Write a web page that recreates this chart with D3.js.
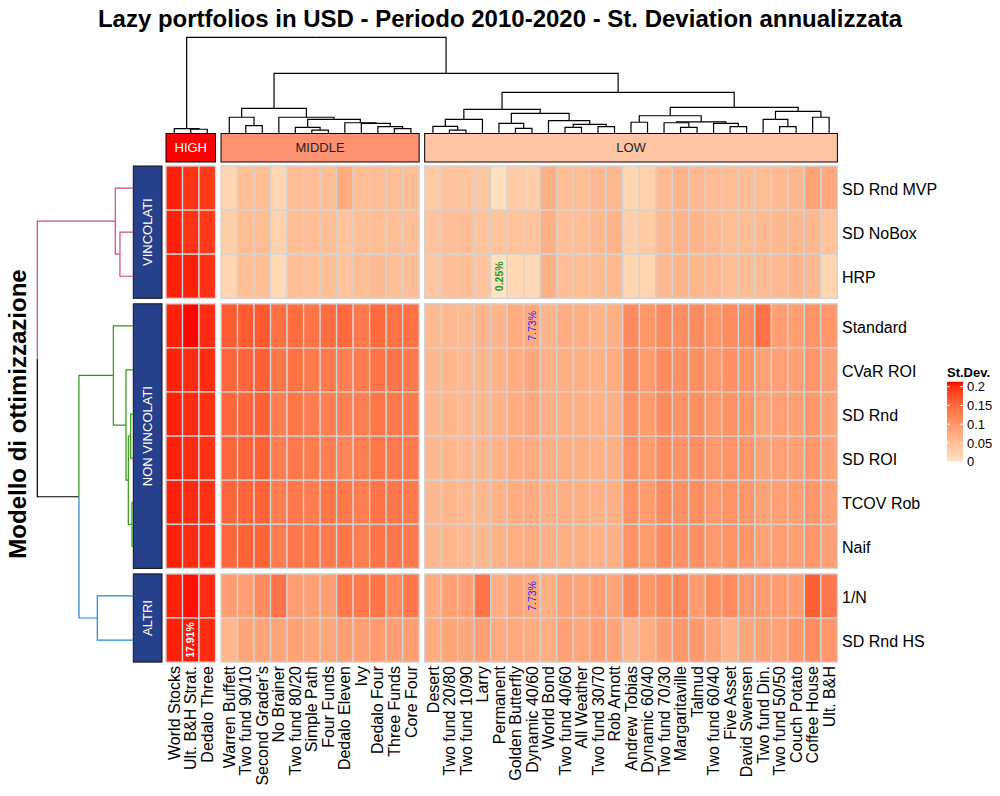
<!DOCTYPE html>
<html><head><meta charset="utf-8">
<script src="https://cdn.jsdelivr.net/npm/d3@7"></script>
<style>body{margin:0;background:#fff} text{font-family:"Liberation Sans",Arial,sans-serif}</style>
</head><body><svg id="c" width="1000" height="796"></svg>
<script>
// ---------------- DATA ----------------
const chartTitle = "Lazy portfolios in USD - Periodo 2010-2020 - St. Deviation annualizzata";
const rowTitle = "Modello di ottimizzazione";
const legendTitle = "St.Dev.";
const legendTicks = [0, 0.05, 0.1, 0.15, 0.2];
const colorDomain = [0, 0.213];

const colGroups = ["HIGH", "MIDDLE", "LOW"];
const colsHigh = ["World Stocks", "Ult. B&H Strat.", "Dedalo Three"];
const colsMiddle = ["Warren Buffett", "Two fund 90/10", "Second Grader's", "No Brainer", "Two fund 80/20", "Simple Path", "Four Funds", "Dedalo Eleven", "Ivy", "Dedalo Four", "Three Funds", "Core Four"];
const colsLow = ["Desert", "Two fund 20/80", "Two fund 10/90", "Larry", "Permanent", "Golden Butterfly", "Dynamic 40/60", "World Bond", "Two fund 40/60", "All Weather", "Two fund 30/70", "Rob Arnott", "Andrew Tobias", "Dynamic 60/40", "Two fund 70/30", "Margaritaville", "Talmud", "Two fund 60/40", "Five Asset", "David Swensen", "Two fund Din.", "Two fund 50/50", "Couch Potato", "Coffee House", "Ult. B&H"];

const rowGroups = ["VINCOLATI", "NON VINCOLATI", "ALTRI"];
const rowsVincolati = ["SD Rnd MVP", "SD NoBox", "HRP"];
const rowsNonVincolati = ["Standard", "CVaR ROI", "SD Rnd", "SD ROI", "TCOV Rob", "Naif"];
const rowsAltri = ["1/N", "SD Rnd HS"];

// St. deviation per model (columns in display order: HIGH, MIDDLE, LOW)
const sdRndMVP = [0.205,0.196,0.192, 0.020,0.050,0.050,0.020,0.050,0.050,0.050,0.075,0.050,0.052,0.052,0.050, 0.033,0.045,0.045,0.038,0.006,0.032,0.028,0.070,0.052,0.052,0.055,0.058,0.020,0.024,0.055,0.062,0.058,0.053,0.052,0.052,0.052,0.055,0.060,0.085,0.078];
const sdNoBox = [0.205,0.196,0.192, 0.028,0.052,0.052,0.025,0.050,0.050,0.050,0.045,0.050,0.052,0.050,0.050, 0.045,0.050,0.050,0.045,0.045,0.045,0.045,0.070,0.050,0.050,0.055,0.065,0.028,0.035,0.057,0.065,0.062,0.055,0.052,0.052,0.055,0.060,0.060,0.060,0.045];
const hrp = [0.205,0.205,0.198, 0.020,0.050,0.050,0.015,0.050,0.048,0.050,0.045,0.052,0.056,0.050,0.050, 0.038,0.050,0.050,0.042,0.0025,0.015,0.015,0.070,0.050,0.052,0.053,0.055,0.020,0.020,0.057,0.062,0.060,0.055,0.052,0.052,0.053,0.057,0.062,0.057,0.020];
const standard = [0.205,0.212,0.200, 0.165,0.165,0.168,0.145,0.148,0.140,0.148,0.152,0.135,0.152,0.145,0.145, 0.057,0.057,0.055,0.062,0.063,0.075,0.0773,0.063,0.073,0.070,0.063,0.070,0.115,0.100,0.115,0.110,0.113,0.102,0.113,0.112,0.145,0.090,0.090,0.103,0.100];
const cvarROI = [0.205,0.200,0.200, 0.155,0.155,0.160,0.138,0.142,0.133,0.133,0.128,0.132,0.140,0.140,0.135, 0.060,0.060,0.058,0.060,0.066,0.073,0.080,0.068,0.072,0.070,0.066,0.075,0.113,0.095,0.113,0.108,0.110,0.098,0.108,0.102,0.088,0.088,0.087,0.102,0.087];
const sdRnd = [0.205,0.200,0.198, 0.155,0.155,0.160,0.128,0.138,0.130,0.128,0.128,0.130,0.138,0.135,0.133, 0.060,0.060,0.058,0.060,0.066,0.073,0.078,0.070,0.072,0.070,0.066,0.070,0.107,0.095,0.113,0.105,0.110,0.097,0.106,0.100,0.083,0.088,0.088,0.100,0.085];
const sdROI = [0.205,0.200,0.198, 0.155,0.155,0.160,0.128,0.135,0.132,0.128,0.122,0.128,0.138,0.135,0.135, 0.060,0.060,0.058,0.060,0.066,0.073,0.076,0.070,0.072,0.070,0.066,0.070,0.105,0.095,0.112,0.105,0.108,0.097,0.104,0.100,0.085,0.088,0.088,0.100,0.085];
const tcovRob = [0.205,0.200,0.198, 0.155,0.155,0.158,0.130,0.135,0.130,0.138,0.135,0.130,0.140,0.137,0.135, 0.060,0.060,0.058,0.060,0.066,0.073,0.076,0.070,0.072,0.070,0.066,0.070,0.105,0.095,0.113,0.107,0.110,0.097,0.105,0.100,0.085,0.088,0.090,0.102,0.087];
const naif = [0.205,0.200,0.198, 0.155,0.157,0.158,0.130,0.137,0.133,0.133,0.138,0.130,0.140,0.137,0.135, 0.060,0.060,0.058,0.060,0.066,0.072,0.076,0.070,0.072,0.070,0.066,0.070,0.105,0.095,0.113,0.107,0.108,0.097,0.105,0.100,0.088,0.090,0.090,0.102,0.088];
const oneOverN = [0.205,0.210,0.200, 0.090,0.090,0.113,0.140,0.090,0.088,0.090,0.133,0.133,0.140,0.117,0.137, 0.075,0.088,0.090,0.140,0.070,0.082,0.0773,0.070,0.088,0.083,0.088,0.083,0.115,0.100,0.113,0.120,0.095,0.110,0.113,0.097,0.095,0.095,0.090,0.162,0.137];
const sdRndHS = [0.205,0.208,0.200, 0.060,0.083,0.083,0.083,0.085,0.080,0.083,0.090,0.090,0.095,0.090,0.090, 0.075,0.082,0.080,0.090,0.075,0.078,0.075,0.072,0.088,0.080,0.087,0.083,0.064,0.072,0.090,0.100,0.097,0.083,0.068,0.080,0.088,0.085,0.100,0.113,0.100];

const cellLabels = [
  {row: "HRP", col: "Permanent", text: "0.25%", kind: "min"},
  {row: "Standard", col: "Dynamic 40/60", text: "7.73%", kind: "mid"},
  {row: "1/N", col: "Dynamic 40/60", text: "7.73%", kind: "mid"},
  {row: "SD Rnd HS", col: "Ult. B&H Strat.", text: "17.91%", kind: "max"}
];

// Dendrograms: [height, left, right], leaves are names
const colTree = [1.0,
  [0.048, "World Stocks", [0.042, "Ult. B&H Strat.", "Dedalo Three"]],
  [0.625,
    [0.260,
      [0.167, "Warren Buffett", [0.079, "Two fund 90/10", "Second Grader's"]],
      [0.167, "No Brainer",
        [0.146,
          [0.0625, "Two fund 80/20", [0.034, "Simple Path", "Four Funds"]],
          [0.110, "Dedalo Eleven", [0.104, "Ivy", [0.069, "Dedalo Four", [0.048, "Three Funds", "Core Four"]]]]]]],
    [0.427,
      [0.250,
        [0.146, [0.073, "Desert", [0.034, "Two fund 20/80", "Two fund 10/90"]], "Larry"],
        [0.208,
          [0.104, "Permanent", [0.052, "Golden Butterfly", "Dynamic 40/60"]],
          [0.131, "World Bond", [0.094, [0.0625, "Two fund 40/60", "All Weather"], [0.069, "Two fund 30/70", "Rob Arnott"]]]]],
      [0.271,
        [0.183, [0.115, "Andrew Tobias", "Dynamic 60/40"],
          [0.118, [0.110, "Two fund 70/30", [0.0625, "Margaritaville", "Talmud"]], [0.104, "Two fund 60/40", [0.069, "Five Asset", "David Swensen"]]]],
        [0.229, [0.146, "Two fund Din.", [0.069, "Two fund 50/50", "Couch Potato"]], [0.167, "Coffee House", "Ult. B&H"]]]]]];
const rowTree = [1.0,
  [0.1875, "SD Rnd MVP", [0.139, "SD NoBox", "HRP"]],
  [0.566,
    [0.208, "Standard", [0.076, "CVaR ROI", [0.052, [0.027, "SD Rnd", "SD ROI"], [0.0135, "TCOV Rob", "Naif"]]]],
    [0.375, "1/N", "SD Rnd HS"]]];

// ---------------- LAYOUT / STYLE ----------------
const svg = d3.select("#c");
const hmLeft = 166, cw = 16.51, cgap = 5.5;
const hmTop = 166, rh = 44.1, rgap = 5.5;
const colSlices = [colsHigh, colsMiddle, colsLow];
const rowSlices = [rowsVincolati, rowsNonVincolati, rowsAltri];
const rowValues = {"SD Rnd MVP": sdRndMVP, "SD NoBox": sdNoBox, "HRP": hrp, "Standard": standard, "CVaR ROI": cvarROI, "SD Rnd": sdRnd, "SD ROI": sdROI, "TCOV Rob": tcovRob, "Naif": naif, "1/N": oneOverN, "SD Rnd HS": sdRndHS};
const allCols = colSlices.flat();

const color = d3.scaleLinear().domain(colorDomain).range(["#FFE4C4", "#FF0000"]).interpolate(d3.interpolateLab).clamp(true);

let x0 = hmLeft;
const colScales = colSlices.map(s => { const sc = d3.scaleBand().domain(s).range([x0, x0 + s.length * cw]); x0 += s.length * cw + cgap; return sc; });
let y0 = hmTop;
const rowScales = rowSlices.map(s => { const sc = d3.scaleBand().domain(s).range([y0, y0 + s.length * rh]); y0 += s.length * rh + rgap; return sc; });
const colScaleOf = {}; colSlices.forEach((s, i) => s.forEach(c => colScaleOf[c] = colScales[i]));
const rowScaleOf = {}; rowSlices.forEach((s, i) => s.forEach(r => rowScaleOf[r] = rowScales[i]));
const cx = c => colScaleOf[c](c) + colScaleOf[c].bandwidth() / 2;
const cy = r => rowScaleOf[r](r) + rowScaleOf[r].bandwidth() / 2;

// Titles
svg.append("text").attr("x", 500).attr("y", 27).attr("text-anchor", "middle")
  .attr("font-size", 24).attr("font-weight", "bold").text(chartTitle);
svg.append("text").attr("transform", "translate(26,414) rotate(-90)").attr("text-anchor", "middle")
  .attr("font-size", 24).attr("font-weight", "bold").text(rowTitle);

// Cells
const gCells = svg.append("g");
rowSlices.flat().forEach(r => {
  const vals = rowValues[r];
  allCols.forEach((c, j) => {
    const sc = colScaleOf[c], sr = rowScaleOf[r];
    gCells.append("rect").attr("x", sc(c)).attr("y", sr(r)).attr("width", sc.bandwidth()).attr("height", sr.bandwidth())
      .attr("fill", color(vals[j])).attr("stroke", "#d3d3d3").attr("stroke-width", 1.3);
  });
});

// Cell labels
const labelStyle = {min: {fill: "#1f9a1f", weight: "bold"}, mid: {fill: "#1a1aff", weight: "normal"}, max: {fill: "#ffffff", weight: "bold"}};
cellLabels.forEach(l => {
  svg.append("text").attr("transform", `translate(${cx(l.col)},${cy(l.row)}) rotate(-90)`)
    .attr("text-anchor", "middle").attr("dy", "0.35em").attr("font-size", 10.5)
    .attr("fill", labelStyle[l.kind].fill).attr("font-weight", labelStyle[l.kind].weight).text(l.text);
});

// Column annotation
const annTop = 133.5, annH = 28.5;
const annFill = {HIGH: "#FF0000", MIDDLE: "#FC9272", LOW: "#FFC4A4"};
const annText = {HIGH: "#ffffff", MIDDLE: "#222222", LOW: "#222222"};
colGroups.forEach((g, i) => {
  const sc = colScales[i], r = sc.range();
  svg.append("rect").attr("x", r[0]).attr("y", annTop).attr("width", r[1] - r[0]).attr("height", annH)
    .attr("fill", annFill[g]).attr("stroke", "#000").attr("stroke-width", 1);
  svg.append("text").attr("x", (r[0] + r[1]) / 2).attr("y", annTop + annH / 2).attr("dy", "0.35em")
    .attr("text-anchor", "middle").attr("font-size", 13).attr("fill", annText[g]).text(g);
});

// Row annotation
const rannLeft = 133.3, rannW = 28.7;
rowGroups.forEach((g, i) => {
  const sr = rowScales[i], r = sr.range();
  svg.append("rect").attr("x", rannLeft).attr("y", r[0]).attr("width", rannW).attr("height", r[1] - r[0])
    .attr("fill", "#27408B").attr("stroke", "#111").attr("stroke-width", 1);
  svg.append("text").attr("transform", `translate(${rannLeft + rannW / 2},${(r[0] + r[1]) / 2}) rotate(-90)`)
    .attr("dy", "0.35em").attr("text-anchor", "middle").attr("font-size", 13).attr("fill", "#fff").text(g);
});

// Column labels
allCols.forEach(c => {
  svg.append("text").attr("transform", `translate(${cx(c)},${666}) rotate(-90)`)
    .attr("text-anchor", "end").attr("dy", "0.35em").attr("font-size", 16).attr("fill", "#000").text(c);
});
// Row labels
rowSlices.flat().forEach(r => {
  svg.append("text").attr("x", 842).attr("y", cy(r)).attr("dy", "0.43em").attr("font-size", 16).text(r);
});

// Dendrograms
function build(node, posFn) {
  if (typeof node === "string") return {name: node, h: 0, pos: posFn(node), leaves: [node]};
  const kids = node.slice(1).map(k => build(k, posFn));
  return {h: node[0], pos: d3.mean(kids, k => k.pos), children: kids, leaves: kids.flatMap(k => k.leaves)};
}
function walk(n, f) { if (n.children) n.children.forEach(k => { f(n, k); walk(k, f); }); }

const colH = d3.scaleLinear().domain([0, 1]).range([133.3, 37.3]);
const cRoot = build(colTree, cx);
const gcd = svg.append("g").attr("fill", "none").attr("stroke", "#000").attr("stroke-width", 1.2);
walk(cRoot, (p, k) => {
  gcd.append("path").attr("d", `M${p.pos},${colH(p.h)}H${k.pos}V${colH(k.h)}`);
});

const rowHs = d3.scaleLinear().domain([0, 1]).range([133.3, 37.3]);
const groupColor = {"VINCOLATI": "#D6457A", "NON VINCOLATI": "#2E9A10", "ALTRI": "#1F86D8"};
const rowGroupOf = {}; rowSlices.forEach((s, i) => s.forEach(r => rowGroupOf[r] = rowGroups[i]));
const rRoot = build(rowTree, cy);
const grd = svg.append("g").attr("fill", "none").attr("stroke-width", 1.2);
walk(rRoot, (p, k) => {
  const gs = new Set(k.leaves.map(l => rowGroupOf[l]));
  const col = gs.size === 1 ? groupColor[[...gs][0]] : "#000";
  grd.append("path").attr("stroke", col).attr("d", `M${rowHs(p.h)},${p.pos}V${k.pos}H${rowHs(k.h)}`);
});

// Legend
const lgX = 947, lgW = 16;
const lgY = d3.scaleLinear().domain([0, 0.2]).range([461.7, 386.7]);
const defs = svg.append("defs");
const grad = defs.append("linearGradient").attr("id", "lg").attr("x1", 0).attr("y1", 1).attr("x2", 0).attr("y2", 0);
d3.range(0, 1.0001, 0.05).forEach(t => grad.append("stop").attr("offset", t)
  .attr("stop-color", color(colorDomain[0] + t * (colorDomain[1] - colorDomain[0]))));
svg.append("rect").attr("x", lgX).attr("y", lgY(colorDomain[1])).attr("width", lgW)
  .attr("height", lgY(colorDomain[0]) - lgY(colorDomain[1])).attr("fill", "url(#lg)");
svg.append("text").attr("x", lgX).attr("y", 377).attr("font-size", 13).attr("font-weight", "bold").text(legendTitle);
legendTicks.forEach(v => {
  const y = lgY(v);
  svg.append("line").attr("x1", lgX).attr("x2", lgX + 3).attr("y1", y).attr("y2", y).attr("stroke", "#fff").attr("stroke-width", 1);
  svg.append("line").attr("x1", lgX + lgW - 3).attr("x2", lgX + lgW).attr("y1", y).attr("y2", y).attr("stroke", "#fff").attr("stroke-width", 1);
  svg.append("text").attr("x", lgX + lgW + 4).attr("y", y).attr("dy", "0.35em").attr("font-size", 13).text(String(v));
});
</script></body></html>
